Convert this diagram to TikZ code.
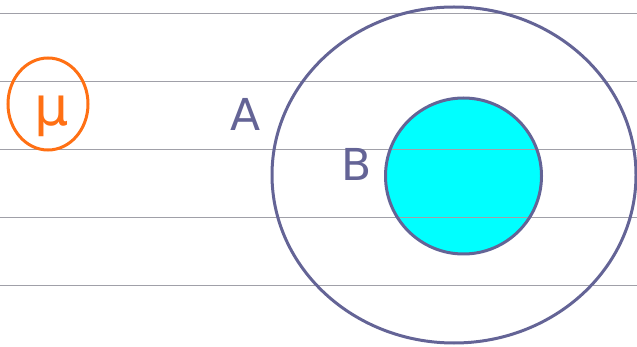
\documentclass[tikz,border=0pt]{standalone}
\usepackage{fontspec}
\setmainfont{DejaVu Sans}
\definecolor{rulegray}{RGB}{160, 160, 168}
\definecolor{setblue}{RGB}{100, 100, 150}
\definecolor{setcyan}{RGB}{0, 255, 255}
\definecolor{penorange}{RGB}{255, 112, 20}
\usetikzlibrary{positioning}
\tikzset{
	ruleline/.style={draw=rulegray, line width=1pt},
	setring/.style={draw=setblue, line width=3pt},
	subset/.style={fill=setcyan},
	setlabel/.style={text=setblue, inner sep=0pt, font=\fontsize{44}{48}\selectfont},
	universe/.style={draw=penorange, line width=3pt},
}
\begin{document}
\begin{tikzpicture}[x=1pt, y=-1pt]
		\useasboundingbox (0,0) rectangle (637,347);
		\fill[subset] (463.5,176) circle [radius=78];
		\foreach \y in {14,82,150,218,286}
			\draw[ruleline] (0,\y) -- (637,\y);
		\draw[setring] (454,175) ellipse [x radius=182, y radius=168];
		\draw[setring] (463.5,176) circle [radius=78];
		\node[setlabel] (la) at (246,114) {A};
		\node[setlabel] (lb) at (357,164) {B};
		\draw[universe] (48,104) ellipse [x radius=40, y radius=46];
		\node[text=penorange, inner sep=0pt, font=\fontsize{54}{58}\selectfont] (mu) at (52,116) {μ};
	\end{tikzpicture}
\end{document}
